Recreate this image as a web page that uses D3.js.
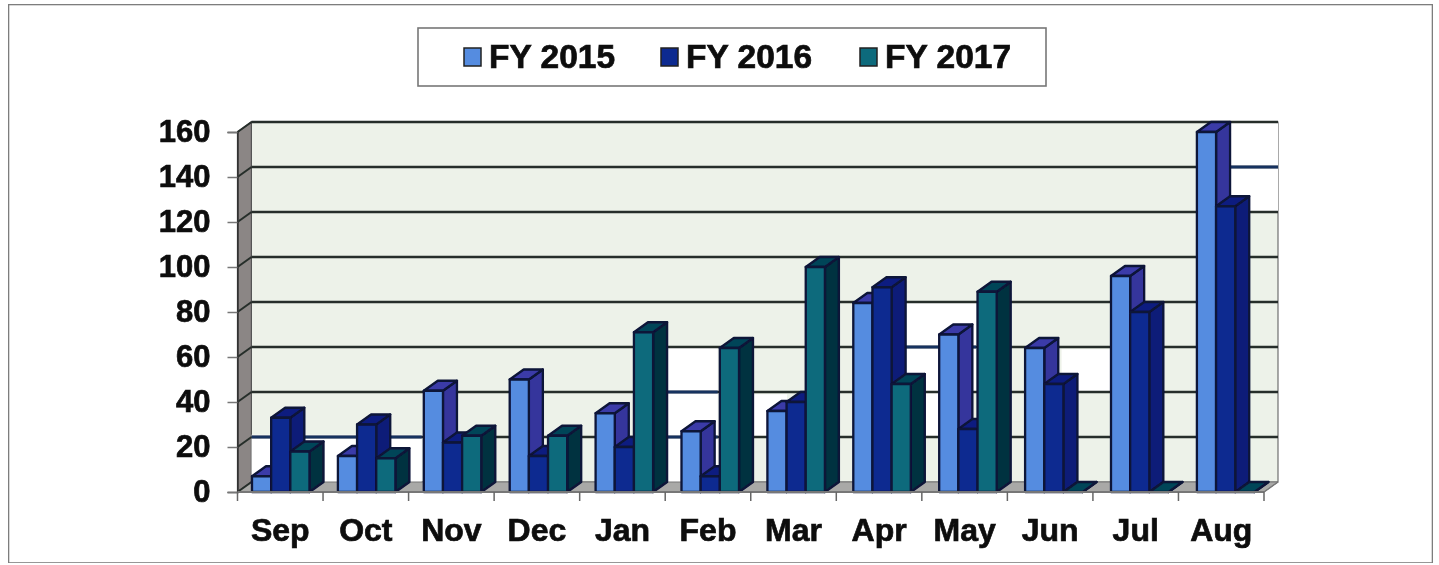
<!DOCTYPE html>
<html><head><meta charset="utf-8">
<script src="https://cdn.jsdelivr.net/npm/d3@7"></script>
<style>html,body{margin:0;padding:0;background:#fff;overflow:hidden}svg{display:block}
text{font-family:"Liberation Sans",Arial,sans-serif;font-weight:bold;fill:#0d0d0d;stroke:#0d0d0d;stroke-width:0.7px}</style>
</head><body><div id="chart"></div>
<script>
const months = ["Sep","Oct","Nov","Dec","Jan","Feb","Mar","Apr","May","Jun","Jul","Aug"];
const seriesNames = ["FY 2015","FY 2016","FY 2017"];
const fy2015 = [7,16,45,50,35,27,36,84,70,64,96,160];
const fy2016 = [33,30,22,16,20,7,40,91,28,48,80,127];
const fy2017 = [18,15,25,25,71,64,100,48,89,0,0,0];
const yTicks = [0,20,40,60,80,100,120,140,160];
const seriesValues = [fy2015,fy2016,fy2017];
const faceColors = ["#558ce0","#0f2a90","#0a6a7c"];
const sideColors = ["#35359c","#0b1f78","#06313f"];
const topColors  = ["#3b3ba8","#0e1f80","#064459"];
// Patches of the back wall that came out white on the scan: [from month, to month, low value, high value]
const wallDropouts = [[0,1.99,0,21],[4.86,5.45,0,60],[5.86,6.26,20,39],[7.65,8.47,40,80],[7.88,8.03,20,40],[9.47,10.05,40,59],[11.43,12,120,160]];

const W=1439,H=565,dx=14,dy=10;
const svg=d3.select("#chart").append("svg").attr("width",W).attr("height",H);
const f=svg.append("defs").append("filter").attr("id","scan").attr("x",0).attr("y",0).attr("width",1).attr("height",1);
f.append("feGaussianBlur").attr("stdDeviation",0.6);
const g=svg.append("g").attr("filter","url(#scan)");

const y=d3.scaleLinear().domain([0,160]).range([492,132]);
const xTick=d3.scaleBand().domain(months).range([237.5,1264]);
const xBar=d3.scaleBand().domain(months).range([238,1268.8]);
const xSer=d3.scaleBand().domain(seriesNames).range([14,71.5]);
const monthUnit=d3.scaleLinear().domain([0,12]).range([237.5+dx,1264+dx]);
const poly=p=>p.map(q=>q.join(",")).join(" ");
const x0=xTick.range()[0],x1=xTick.range()[1];

// outer frame
g.append("rect").attr("x",8.5).attr("y",4.5).attr("width",1424).attr("height",558.5).attr("fill","#fff").attr("stroke","#7d7d7d").attr("stroke-width",1.6);

// legend
g.append("rect").attr("x",418).attr("y",28).attr("width",628).attr("height",58).attr("fill","#fff").attr("stroke","#777").attr("stroke-width",1.6);
const legendX=d3.scaleOrdinal().domain(seriesNames).range([464,661,860]);
const lg=g.append("g").selectAll("g").data(seriesNames).join("g").attr("transform",d=>`translate(${legendX(d)},48)`);
lg.append("rect").attr("width",17).attr("height",18).attr("fill",(d,i)=>faceColors[i]).attr("stroke","#222").attr("stroke-width",1.5);
lg.append("text").attr("x",25).attr("y",20).attr("font-size",33.5).text(d=>d);

// walls and floor
g.append("polygon").attr("points",poly([[x0,y(0)],[x0+dx,y(0)-dy],[x0+dx,y(160)-dy],[x0,y(160)]])).attr("fill","#8b8685").attr("stroke","#2a2a2a").attr("stroke-width",1.2);
g.append("rect").attr("x",x0+dx).attr("y",y(160)-dy).attr("width",x1-x0).attr("height",y(0)-y(160)).attr("fill","#edf2e9").attr("stroke","#555").attr("stroke-width",1);
g.append("g").selectAll("rect").data(wallDropouts).join("rect")
 .attr("x",d=>monthUnit(d[0])).attr("width",d=>monthUnit(d[1])-monthUnit(d[0]))
 .attr("y",d=>y(d[3])-dy).attr("height",d=>y(d[2])-y(d[3])).attr("fill","#fff");
g.append("polygon").attr("points",poly([[x0,y(0)],[x1,y(0)],[x1+dx,y(0)-dy],[x0+dx,y(0)-dy]])).attr("fill","#a9a9a7").attr("stroke","#777").attr("stroke-width",1);

// gridlines on back wall and left wall
g.append("g").selectAll("line").data(yTicks.filter(v=>v>0)).join("line")
 .attr("x1",x0+dx).attr("x2",x1+dx).attr("y1",v=>y(v)-dy).attr("y2",v=>y(v)-dy).attr("stroke","#262e2a").attr("stroke-width",2.6);
// navy parts of gridlines where the wall dropped out
wallDropouts.forEach(d=>{
  yTicks.filter(v=>v>d[2]&&v<d[3]).forEach(v=>{
    g.append("line").attr("x1",monthUnit(d[0])).attr("x2",monthUnit(d[1])).attr("y1",y(v)-dy).attr("y2",y(v)-dy).attr("stroke","#17315f").attr("stroke-width",3.2);
  });
});
g.append("g").selectAll("line").data(yTicks).join("line")
 .attr("x1",x0).attr("x2",x0+dx).attr("y1",v=>y(v)).attr("y2",v=>y(v)-dy).attr("stroke","#262e2a").attr("stroke-width",2);

// bars
const bars=[];
months.forEach((m,i)=>seriesNames.forEach((s,k)=>bars.push({m,s,k,v:seriesValues[k][i]})));
const bg=g.append("g").selectAll("g").data(bars).join("g");
const bw=xSer.bandwidth();
const outline={stroke:"#0a1238","stroke-width":2.3,"stroke-linejoin":"round"};
function styled(sel){Object.entries(outline).forEach(([a,b])=>sel.attr(a,b));return sel;}
styled(bg.append("polygon")).attr("fill",d=>sideColors[d.k]).attr("points",d=>{const a=xBar(d.m)+xSer(d.s)+bw;return poly([[a,y(d.v)],[a+dx,y(d.v)-dy],[a+dx,y(0)-dy],[a,y(0)]]);});
styled(bg.append("polygon")).attr("fill",d=>topColors[d.k]).attr("points",d=>{const a=xBar(d.m)+xSer(d.s);return poly([[a,y(d.v)],[a+bw,y(d.v)],[a+bw+dx,y(d.v)-dy],[a+dx,y(d.v)-dy]]);});
styled(bg.append("rect")).attr("fill",d=>faceColors[d.k]).attr("x",d=>xBar(d.m)+xSer(d.s)).attr("width",bw).attr("y",d=>y(d.v)).attr("height",d=>y(0)-y(d.v));

// axes
const axY=g.append("g").attr("transform",`translate(${x0},0)`).call(d3.axisLeft(y).tickValues(yTicks).tickSize(10).tickPadding(17).tickFormat(d3.format("d")));
axY.select(".domain").attr("stroke","#333").attr("stroke-width",1.5);
axY.selectAll("line").attr("stroke","#777").attr("stroke-width",1.5);
axY.selectAll("text").attr("font-size",31);
const axX=g.append("g").attr("transform","translate(0,492)").call(d3.axisBottom(xTick).tickSize(0).tickPadding(0));
axX.select(".domain").attr("stroke","#777").attr("stroke-width",2).attr("d",`M${x0},0H${x1}`);
axX.selectAll("text").attr("font-size",32).attr("dy",0).attr("y",49);
g.append("g").attr("transform","translate(0,492)").selectAll("line").data(d3.range(13)).join("line")
 .attr("x1",i=>x0+i*xTick.step()).attr("x2",i=>x0+i*xTick.step()).attr("y1",0).attr("y2",9).attr("stroke","#666").attr("stroke-width",1.5);
// right edge of floor
g.append("line").attr("x1",x1).attr("x2",x1+dx).attr("y1",y(0)).attr("y2",y(0)-dy).attr("stroke","#777").attr("stroke-width",1.5);
</script></body></html>
